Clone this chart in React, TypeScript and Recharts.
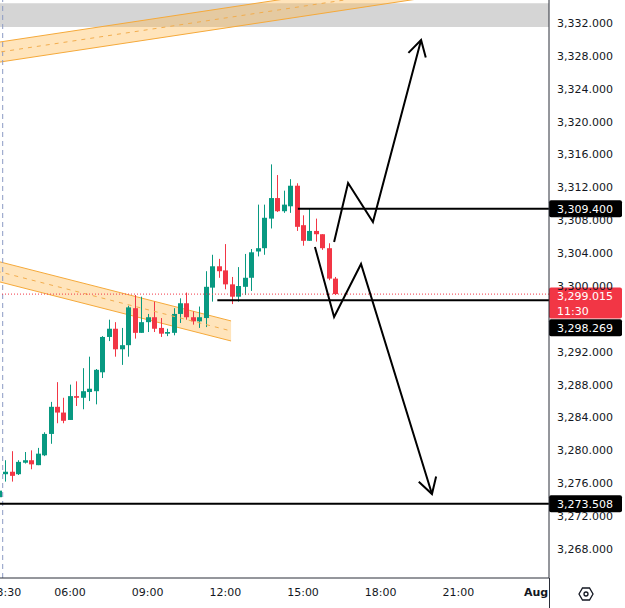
import { ComposedChart, Bar, Line, Area, XAxis, YAxis, ReferenceLine, ReferenceArea } from 'recharts'

const UP = '#089981'
const DOWN = '#f23645'
const FONT = "'DejaVu Sans', sans-serif"
const TEXT = '#131722'

// 15m candles, time = hours after midnight (31 Jul)
const times = [
  3.25, 3.5, 3.75, 4, 4.25, 4.5, 4.75, 5, 5.25, 5.5, 5.75, 6, 6.25, 6.5, 6.75, 7, 7.25, 7.5,
  7.75, 8, 8.25, 8.5, 8.75, 9, 9.25, 9.5, 9.75, 10, 10.25, 10.5, 10.75, 11, 11.25, 11.5, 11.75,
  12, 12.25, 12.5, 12.75, 13, 13.25, 13.5, 13.75, 14, 14.25, 14.5, 14.75, 15, 15.25, 15.5,
  15.75, 16, 16.25,
]
const opens = [
  3274.3, 3277.1, 3277.4, 3277.1, 3278.5, 3278.8, 3278.2, 3279.4, 3282.0, 3285.3, 3284.6,
  3283.7, 3286.6, 3286.4, 3287.1, 3287.2, 3289.5, 3293.8, 3294.8, 3292.3, 3292.8, 3297.3,
  3294.3, 3295.6, 3296.2, 3294.9, 3294.2, 3294.3, 3296.6, 3297.9, 3296.2, 3295.7, 3296.1,
  3299.8, 3302.4, 3301.9, 3300.2, 3298.7, 3299.9, 3301.0, 3304.2, 3304.6, 3308.2, 3310.7,
  3309.1, 3309.7, 3312.2, 3307.4, 3305.5, 3306.7, 3306.3, 3304.6, 3300.9,
]
const highs = [
  3275.8, 3278.8, 3279.9, 3278.8, 3279.8, 3280.0, 3280.3, 3282.2, 3285.9, 3288.3, 3286.4,
  3288.0, 3288.4, 3290.0, 3291.4, 3289.9, 3293.9, 3295.9, 3295.6, 3294.9, 3297.6, 3298.9,
  3298.7, 3296.6, 3298.1, 3296.1, 3294.8, 3297.3, 3298.5, 3299.2, 3296.9, 3297.5, 3301.8,
  3303.8, 3303.3, 3305.1, 3301.1, 3302.3, 3303.9, 3304.5, 3309.9, 3309.9, 3314.8, 3313.5,
  3311.6, 3313.0, 3312.5, 3308.6, 3309.4, 3308.2, 3306.3, 3305.2, 3301.1,
]
const lows = [
  3273.9, 3276.2, 3276.2, 3277.0, 3278.4, 3277.7, 3278.2, 3279.3, 3280.8, 3283.3, 3283.3,
  3283.7, 3285.4, 3285.0, 3286.0, 3285.6, 3288.8, 3293.3, 3291.4, 3290.4, 3291.4, 3293.6,
  3294.3, 3294.4, 3294.4, 3293.8, 3293.9, 3294.0, 3295.5, 3295.9, 3295.3, 3294.9, 3295.0,
  3298.1, 3301.0, 3299.6, 3297.8, 3298.1, 3298.9, 3299.4, 3303.6, 3303.8, 3307.0, 3309.0,
  3308.9, 3308.9, 3306.7, 3304.9, 3305.5, 3305.4, 3304.4, 3300.7, 3298.9,
]
const closes = [
  3275.1, 3277.4, 3276.9, 3278.6, 3278.8, 3278.3, 3279.6, 3282.0, 3285.3, 3284.6, 3283.6,
  3286.6, 3286.4, 3287.2, 3287.5, 3289.8, 3293.8, 3294.8, 3292.3, 3292.8, 3297.4, 3294.3,
  3295.6, 3296.2, 3294.8, 3294.2, 3294.4, 3296.6, 3297.9, 3296.2, 3295.7, 3296.2, 3299.9,
  3302.4, 3301.8, 3300.2, 3298.7, 3300.0, 3301.0, 3304.1, 3304.6, 3308.3, 3310.7, 3309.1,
  3309.9, 3312.2, 3307.2, 3305.5, 3306.7, 3306.3, 3304.6, 3300.9, 3299.015,
]

const timeTicks = [3.5, 6, 9, 12, 15, 18, 21, 24]
// 3,296 sits under the price tags, so it is left out
const priceTicks = [
  3268, 3272, 3276, 3280, 3284, 3288, 3292, 3300, 3304, 3308, 3312, 3316, 3320, 3324,
  3328, 3332,
]

// drawings
const lastPrice = 3299.015
const countdown = '11:30'
const resistance = { from: 14.8, price: 3309.4 }
const support = { from: 11.69, price: 3298.269 }
const target = 3273.508
const sessionBreak = 3.4
const greyZone = [3331.5, 3334.4]

const topBand = [
  { t: 3.0, band: [3327.11, 3329.55], mid: 3328.33 },
  { t: 24.5, band: [3337.34, 3339.78], mid: 3338.56 },
]
const midBand = [
  { t: 2.5, band: [3301.13, 3303.57], mid: 3302.35 },
  { t: 12.22, band: [3293.31, 3295.75], mid: 3294.53 },
]
const upPath = [
  { t: 16.2, v: 3305.35 },
  { t: 16.74, v: 3312.53 },
  { t: 17.7, v: 3307.79 },
  { t: 19.56, v: 3329.93 },
]
const upHead = [
  { t: 19.07, v: 3328.37 },
  { t: 19.56, v: 3329.93 },
  { t: 19.74, v: 3327.81 },
]
const downPath = [
  { t: 15.46, v: 3304.75 },
  { t: 16.2, v: 3296.23 },
  { t: 17.24, v: 3302.68 },
  { t: 19.98, v: 3274.69 },
]
const downHead = [
  { t: 19.47, v: 3276.18 },
  { t: 19.98, v: 3274.69 },
  { t: 20.14, v: 3276.83 },
]

const candles = times.map((t, i) => ({
  t,
  o: opens[i],
  h: highs[i],
  l: lows[i],
  c: closes[i],
  range: [lows[i], highs[i]],
}))

const fmtPrice = (v: number) =>
  v.toLocaleString('en-US', { minimumFractionDigits: 3, maximumFractionDigits: 3 })

const fmtTime = (t: number) => {
  if (t === 24) return 'Aug'
  const h = Math.floor(t)
  const m = Math.round((t - h) * 60)
  return `${String(h).padStart(2, '0')}:${String(m).padStart(2, '0')}`
}

const Candle = (props: any) => {
  const { x, y, width, height, payload } = props
  if (!payload) return null
  const { o, h, l, c } = payload
  const ppu = height / (h - l || 1)
  const yo = y + (h - o) * ppu
  const yc = y + (h - c) * ppu
  const color = c >= o ? UP : DOWN
  const cx = Math.round(x + width / 2) + 0.5
  return (
    <g>
      <line x1={cx} x2={cx} y1={y} y2={y + height} stroke={color} strokeWidth={1} />
      <rect x={cx - 2.5} y={Math.min(yo, yc)} width={5} height={Math.max(1, Math.abs(yc - yo))} fill={color} />
    </g>
  )
}

const TimeTick = (props: any) => {
  const { x, y, payload } = props
  const aug = payload.value === 24
  return (
    <text x={x} y={y} dy="0.71em" textAnchor="middle" fontSize={11} fontFamily={FONT}
      fontWeight={aug ? 700 : 400} fill={TEXT}>
      {fmtTime(payload.value)}
    </text>
  )
}

const tag = (text: string, bg: string, shift = 0, sub?: string) => (props: any) => {
  const vb = props.viewBox
  if (!vb) return null
  const x = vb.x + vb.width
  const y = vb.y + shift
  const h = sub ? 31 : 17
  const top = sub ? y - 6.5 : y - 8.5
  return (
    <g>
      <rect x={x} y={top} width={73} height={h} rx={2} fill={bg} />
      <text x={x + 8} y={top + 12.5} fill="#fff" fontSize={11} fontFamily={FONT}>{text}</text>
      {sub && (
        <text x={x + 8} y={top + 27} fill="#fff" fontSize={11} fontFamily={FONT}>{sub}</text>
      )}
    </g>
  )
}

export default function App() {
  return (
    <div style={{ position: 'absolute', left: 0, top: 0, width: 625, height: 608, background: '#fff' }}>
      <ComposedChart width={625} height={608} data={candles} margin={{ top: 0, right: 0, bottom: 0, left: 0 }}>
        <XAxis dataKey="t" type="number" domain={[3.296, 24.5]} allowDataOverflow ticks={timeTicks}
          interval={0} tick={<TimeTick />} tickLine={false} tickMargin={4} height={30}
          axisLine={{ stroke: '#2a2e39' }} />
        <YAxis orientation="right" type="number" domain={[3264.47, 3334.8]} allowDataOverflow
          ticks={priceTicks} interval={0} tickFormatter={fmtPrice} tickLine={false} width={76}
          tick={{ fill: TEXT, fontSize: 11, fontFamily: FONT }} axisLine={{ stroke: '#2a2e39' }} />

        <ReferenceArea y1={greyZone[0]} y2={greyZone[1]} fill="#d5d5d5" fillOpacity={1} stroke="none" ifOverflow="hidden" />
        <ReferenceLine x={sessionBreak} stroke="#8c9bc4" strokeDasharray="5 4" />

        <Area data={topBand} dataKey="band" type="linear" fill="#ffb74d" fillOpacity={0.38}
          stroke="#f5a93a" strokeWidth={1} isAnimationActive={false} dot={false} activeDot={false} />
        <Line data={topBand} dataKey="mid" type="linear" stroke="#f2ad4e" strokeDasharray="4 5"
          strokeWidth={1} dot={false} activeDot={false} isAnimationActive={false} />
        <Area data={midBand} dataKey="band" type="linear" fill="#ffb74d" fillOpacity={0.38}
          stroke="#f5a93a" strokeWidth={1} isAnimationActive={false} dot={false} activeDot={false} />
        <Line data={midBand} dataKey="mid" type="linear" stroke="#f2ad4e" strokeDasharray="4 5"
          strokeWidth={1} dot={false} activeDot={false} isAnimationActive={false} />

        <Bar dataKey="range" barSize={5} shape={<Candle />} isAnimationActive={false} />

        <ReferenceLine y={lastPrice} stroke={DOWN} strokeDasharray="1 2"
          label={tag(fmtPrice(lastPrice), DOWN, 0, countdown)} />
        <ReferenceLine segment={[{ x: resistance.from, y: resistance.price }, { x: 24.5, y: resistance.price }]}
          stroke="#000" strokeWidth={2} label={tag(fmtPrice(resistance.price), '#000')} />
        <ReferenceLine segment={[{ x: support.from, y: support.price }, { x: 24.5, y: support.price }]}
          stroke="#000" strokeWidth={2} label={tag(fmtPrice(support.price), '#000', 27.5)} />
        <ReferenceLine y={target} stroke="#000" strokeWidth={2} label={tag(fmtPrice(target), '#000')} />

        <Line data={upPath} dataKey="v" type="linear" stroke="#000" strokeWidth={2} dot={false}
          activeDot={false} isAnimationActive={false} />
        <Line data={upHead} dataKey="v" type="linear" stroke="#000" strokeWidth={2} dot={false}
          activeDot={false} isAnimationActive={false} />
        <Line data={downPath} dataKey="v" type="linear" stroke="#000" strokeWidth={2} dot={false}
          activeDot={false} isAnimationActive={false} />
        <Line data={downHead} dataKey="v" type="linear" stroke="#000" strokeWidth={2} dot={false}
          activeDot={false} isAnimationActive={false} />
      </ComposedChart>
      <svg width={625} height={608} style={{ position: 'absolute', left: 0, top: 0, pointerEvents: 'none' }}>
        <line x1={549.5} x2={549.5} y1={578} y2={608} stroke="#2a2e39" />
        <polygon points="579,594 582.5,588 589.5,588 593,594 589.5,600 582.5,600" fill="none" stroke={TEXT} strokeWidth={1.3} />
        <circle cx={586} cy={594} r={2} fill="none" stroke={TEXT} strokeWidth={1.3} />
      </svg>
    </div>
  )
}
